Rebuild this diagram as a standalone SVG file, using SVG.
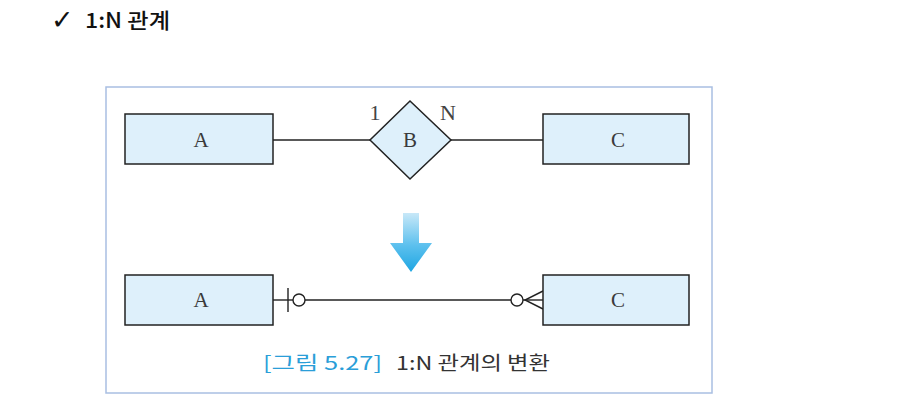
<svg xmlns="http://www.w3.org/2000/svg" width="902" height="420" viewBox="0 0 902 420">
<style>
.ent{fill:#def0fb;stroke:#222;stroke-width:1.5}
.lbl{font-family:"Liberation Serif","DejaVu Serif",serif;font-size:21px;fill:#3a3a3a;text-anchor:middle}
.card{font-family:"Liberation Serif","DejaVu Serif",serif;font-size:22px;fill:#444;text-anchor:middle}
.ln{stroke:#222;stroke-width:1.4;fill:none}
</style>
<defs>
<linearGradient id="ag" x1="0" y1="0" x2="0" y2="1">
<stop offset="0" stop-color="#c8e8f8"/>
<stop offset="0.55" stop-color="#5cc0ee"/>
<stop offset="1" stop-color="#1fa6e2"/>
</linearGradient>
</defs>
<rect width="902" height="420" fill="#fff"/>
<g id="title">
<text x="51" y="29" font-family="DejaVu Sans,sans-serif" font-size="27" fill="#111">✓</text>
<text x="85" y="28" font-family="'Noto Sans CJK KR',sans-serif" font-size="21" font-weight="500" fill="#111" textLength="85" lengthAdjust="spacingAndGlyphs">1:N 관계</text>
</g>
<rect id="frame" x="106" y="87" width="606" height="306" fill="#fff" stroke="#a9bfe2" stroke-width="1.5"/>
<g id="connectors">
<line class="ln" x1="273" y1="140" x2="370" y2="140"/>
<line class="ln" x1="451" y1="140" x2="543" y2="140"/>
<line class="ln" x1="273" y1="300" x2="293" y2="300"/>
<line class="ln" x1="288" y1="288" x2="288" y2="312" stroke-width="2.8"/>
<circle class="ln" cx="299" cy="300" r="6"/>
<line class="ln" x1="305" y1="300" x2="511" y2="300"/>
<circle class="ln" cx="517" cy="300" r="6"/>
<line class="ln" x1="523" y1="300" x2="543" y2="300"/>
<polyline class="ln" points="543,291 525,300 543,309"/>
</g>
<g id="nodeA1"><rect class="ent" x="125" y="114" width="148" height="50"/><text class="lbl" x="201" y="147">A</text></g>
<g id="nodeB"><polygon class="ent" points="410,101 451,140 410,179 370,140"/><text class="lbl" x="410" y="147">B</text></g>
<g id="nodeC1"><rect class="ent" x="543" y="114" width="146" height="50"/><text class="lbl" x="618" y="147">C</text></g>
<text class="card" x="375" y="120">1</text>
<text class="card" x="448" y="120">N</text>
<g id="arrow"><polygon points="403,213 419,213 419,243 432,243 411,272 390,243 403,243" fill="url(#ag)"/></g>
<g id="nodeA2"><rect class="ent" x="125" y="275" width="148" height="50"/><text class="lbl" x="201" y="307">A</text></g>
<g id="nodeC2"><rect class="ent" x="543" y="275" width="146" height="50"/><text class="lbl" x="618" y="307">C</text></g>
<g id="caption">
<text x="263" y="370" font-family="'Noto Sans CJK KR',sans-serif" font-size="19" fill="#2a9ed8" textLength="119" lengthAdjust="spacingAndGlyphs">[그림 5.27]</text>
<text x="396" y="370" font-family="'Noto Sans CJK KR',sans-serif" font-size="19" fill="#333" textLength="154" lengthAdjust="spacingAndGlyphs">1:N 관계의 변환</text>
</g>
</svg>
